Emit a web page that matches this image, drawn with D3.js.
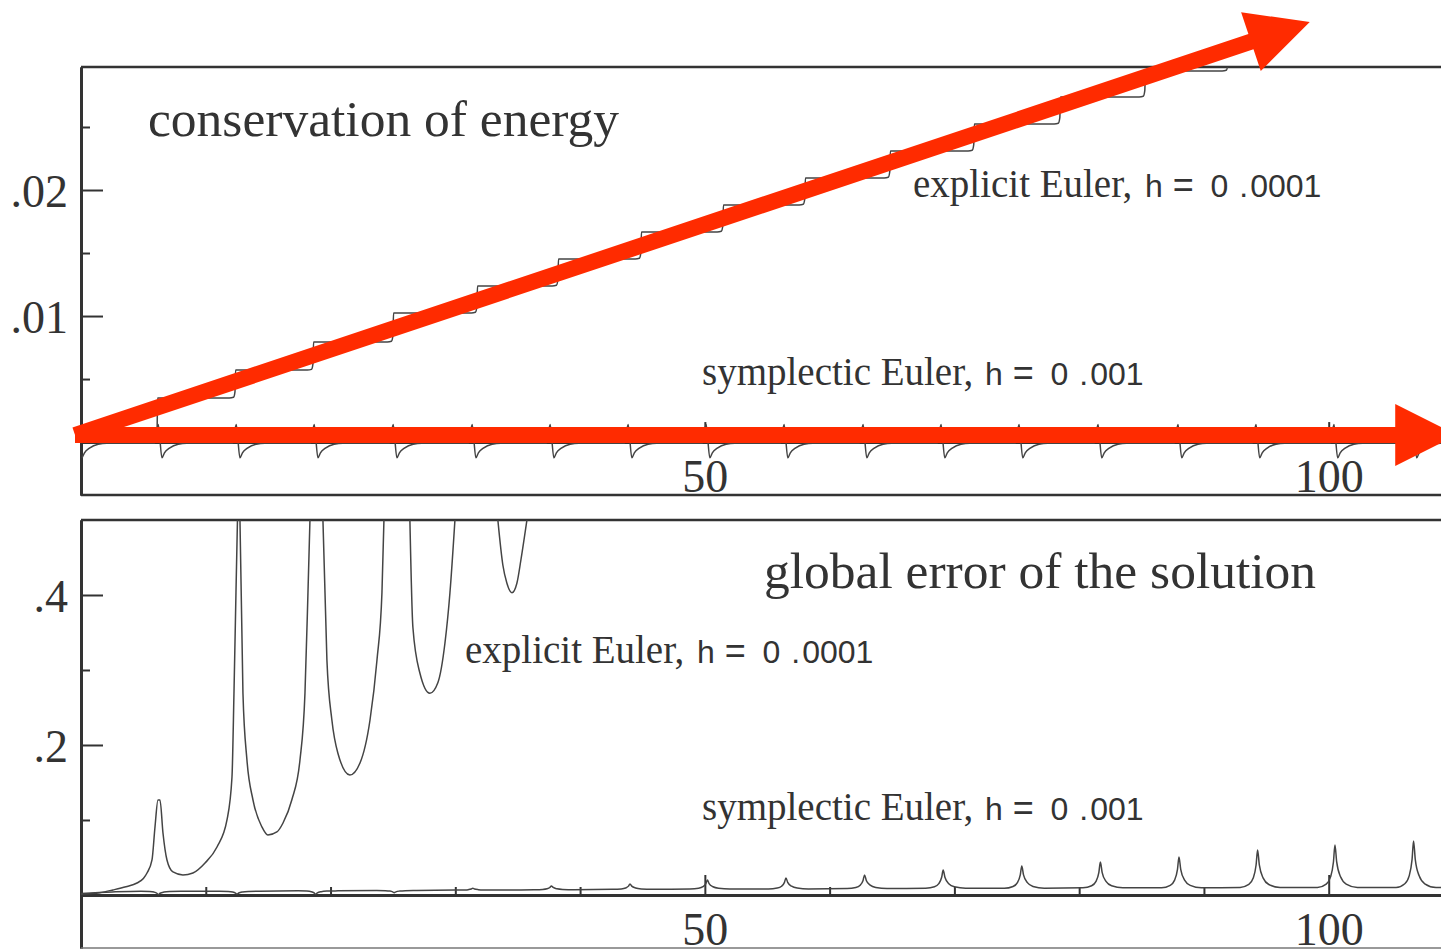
<!DOCTYPE html>
<html>
<head>
<meta charset="utf-8">
<script src="https://cdn.jsdelivr.net/npm/d3@7"></script>
<style>
html, body { margin: 0; padding: 0; background: #fff; }
svg { display: block; }
</style>
</head>
<body>
<svg id="chart" width="1441" height="949"></svg>
<script>
// ---------------- data ----------------
const timeDomain = [0, 109];
const energyDomain = [-0.0042, 0.02976];
const errorDomain = [-0.0707, 0.5];

const xMajorTicks = [50, 100];
const xMajorLabels = ["50", "100"];
const xMinorTicks = [10, 20, 30, 40, 60, 70, 80, 90];

const energyMajorTicks = [0.01, 0.02];
const energyMajorLabels = [".01", ".02"];
const energyMinorTicks = [0.005, 0.015, 0.025];

const errorMajorTicks = [0.2, 0.4];
const errorMajorLabels = [".2", ".4"];
const errorMinorTicks = [0.1, 0.3];

const panelTitles = ["conservation of energy", "global error of the solution"];
const methodNames = ["explicit Euler,", "symplectic Euler,"];
const stepSizes = ["0001", "001"];

// explicit Euler energy error: staircase (times of the jumps, level before each jump)
const explicitStepTimes = [6.09, 12.34, 18.59, 25.0, 31.73, 38.22, 44.87, 51.44, 58.01, 64.82, 71.55, 78.45, 85.26, 91.91, 98.6];
const explicitStepLevels = [0, 0.00349, 0.00571, 0.00794, 0.01024, 0.01238, 0.01452, 0.01667, 0.01881, 0.02095, 0.0231, 0.02524, 0.02738, 0.02944, 0.0316, 0.0337];
const stepCornerDt = [-0.45, -0.12, 0];
const stepCornerDv = [0, 0.00006, 0.0005];

// symplectic Euler energy error: cusps once per period
const energyCuspTimes = [0.08, 6.49, 12.74, 18.99, 25.32, 31.65, 37.9, 44.15, 50.4, 56.65, 62.98, 69.23, 75.48, 81.81, 88.22, 94.47, 100.72, 107.05];
const energyCuspDt = [-0.6, -0.3, 0, 0.2, 0.6, 1.3, 2.0];
const energyCuspValue = [-0.0001, 0.0014, -0.00125, -0.00085, -0.00048, -0.00017, -0.0001];

// explicit Euler global error (null = curve outside the frame)
const explicitErrTime = [
  0, 1.5, 2.56, 3.6, 4.49, 5.0, 5.29, 5.69, 5.93, 6.17, 6.33, 6.57, 6.89, 7.37, 8.17, 8.97, 9.94, 10.9, 11.7, 12.1, 12.26, 12.42, 12.54,
  12.64,
  12.74, 12.98, 13.3, 13.78, 14.5, 14.98, 15.7, 16.19, 16.9, 17.55, 17.95, 18.19, 18.35,
  18.9,
  19.39, 19.71, 20.11, 20.59, 21.55, 22.36, 23.16, 23.72, 24.12, 24.28,
  25.3,
  26.36, 26.6, 27.16, 27.96, 28.6, 29.17, 29.57, 29.97,
  31.7,
  33.41, 33.81, 34.13, 34.54, 34.94, 35.26, 35.74
];
const explicitErrValue = [
  0.001, 0.003, 0.0067, 0.011, 0.016, 0.022, 0.0293, 0.0467, 0.0907, 0.1267, 0.1267, 0.0827, 0.0467, 0.0307, 0.0267, 0.0293, 0.0427, 0.064, 0.1, 0.157, 0.269, 0.403, 0.5,
  null,
  0.5, 0.269, 0.18, 0.127, 0.0907, 0.08, 0.084, 0.096, 0.127, 0.18, 0.269, 0.403, 0.5,
  null,
  0.5, 0.313, 0.233, 0.189, 0.16, 0.176, 0.233, 0.313, 0.403, 0.5,
  null,
  0.5, 0.357, 0.296, 0.269, 0.283, 0.336, 0.403, 0.5,
  null,
  0.5, 0.44, 0.416, 0.403, 0.416, 0.447, 0.5
];

// symplectic Euler global error: small bumps once per period
const symErrStartTime = [0, 2.5];
const symErrStartValue = [0.002, 0.004];
const symPeakTimes = [6.2, 12.5, 18.8, 25.1, 31.4, 37.7, 44.0, 50.2, 56.5, 62.8, 69.1, 75.4, 81.7, 88.0, 94.3, 100.5, 106.8];
const symPeakValues = [0.0005, 0.001, 0.001, 0.003, 0.009, 0.012, 0.0147, 0.020, 0.0227, 0.0267, 0.0333, 0.0387, 0.044, 0.0507, 0.060, 0.0667, 0.072];
const symBaseValues = [0.005, 0.005, 0.0055, 0.006, 0.0065, 0.007, 0.0075, 0.008, 0.008, 0.0085, 0.009, 0.009, 0.0095, 0.0095, 0.01, 0.01, 0.01];
const symPeakDt = [-1.4, -0.7, -0.35, -0.12, 0, 0.14, 0.45, 0.9, 1.8];
const symPeakFrac = [0, 0.08, 0.25, 0.6, 1, 0.6, 0.25, 0.08, 0];
const symErrEnd = [109, 0.01];

// red annotation arrows (in energy-panel data coordinates)
const arrowStart = [-0.48, 0.00056];
const arrowTips = [[98.48, 0.03333], [110.3, 0.00056]];

// ---------------- drawing ----------------
const svg = d3.select("#chart");
const INK = "#333";
const SERIF = "'Liberation Serif', 'Times New Roman', serif";
const SANS = "'Liberation Sans', Arial, sans-serif";

const x = d3.scaleLinear().domain(timeDomain).range([81, 1441]);
const yTop = d3.scaleLinear().domain(energyDomain).range([495, 67]);
const yBot = d3.scaleLinear().domain(errorDomain).range([948, 520]);

const defs = svg.append("defs");
defs.append("clipPath").attr("id", "clipTop").append("rect")
  .attr("x", 81).attr("y", 67).attr("width", 1360).attr("height", 428);
defs.append("clipPath").attr("id", "clipBot").append("rect")
  .attr("x", 81).attr("y", 520).attr("width", 1360).attr("height", 428);

function styleAxis(g, w) {
  g.selectAll(".domain").attr("stroke", INK).attr("stroke-width", w);
  g.selectAll(".tick line").attr("stroke", INK).attr("stroke-width", 2);
  g.selectAll(".tick text").attr("fill", INK).attr("font-family", SERIF).attr("font-size", 46);
}

function panel(yScale, majors, labels, minors, xAxisY) {
  const g = svg.append("g");
  const xa = g.append("g").attr("transform", `translate(0,${xAxisY})`)
    .call(d3.axisBottom(x).tickValues(xMajorTicks).tickSize(-20).tickSizeOuter(0)
      .tickPadding(17).tickFormat((d, i) => xMajorLabels[i]));
  styleAxis(xa, 3);
  const xm = g.append("g").attr("transform", `translate(0,${xAxisY})`)
    .call(d3.axisBottom(x).tickValues(xMinorTicks).tickSize(-8).tickSizeOuter(0).tickFormat(""));
  styleAxis(xm, 3);
  const ya = g.append("g").attr("transform", "translate(81,0)")
    .call(d3.axisLeft(yScale).tickValues(majors).tickSize(-22).tickSizeOuter(0)
      .tickPadding(13).tickFormat((d, i) => labels[i]));
  styleAxis(ya, 3);
  ya.selectAll(".tick text").attr("dy", "0.36em");
  const ym = g.append("g").attr("transform", "translate(81,0)")
    .call(d3.axisLeft(yScale).tickValues(minors).tickSize(-9).tickSizeOuter(0).tickFormat(""));
  styleAxis(ym, 3);
  return g;
}

panel(yTop, energyMajorTicks, energyMajorLabels, energyMinorTicks, yTop(0));
panel(yBot, errorMajorTicks, errorMajorLabels, errorMinorTicks, yBot(0));

// frame lines
const [yT0, yT1] = yTop.range();
svg.append("line").attr("x1", 81).attr("x2", 1441).attr("y1", yT1).attr("y2", yT1).attr("stroke", INK).attr("stroke-width", 2.5);
svg.append("line").attr("x1", 81).attr("x2", 1441).attr("y1", yT0).attr("y2", yT0).attr("stroke", INK).attr("stroke-width", 2.5);
const [yB0, yB1] = yBot.range();
svg.append("line").attr("x1", 81).attr("x2", 1441).attr("y1", yB1).attr("y2", yB1).attr("stroke", INK).attr("stroke-width", 2.5);
svg.append("line").attr("x1", 81).attr("x2", 1441).attr("y1", yB0).attr("y2", yB0).attr("stroke", "#777").attr("stroke-width", 1.5);

// ---- series construction ----
const stairs = [[timeDomain[0], explicitStepLevels[0]]];
explicitStepTimes.forEach((t, k) => {
  const L = explicitStepLevels[k];
  stepCornerDt.forEach((dt, j) => stairs.push([t + dt, L + stepCornerDv[j]]));
  stairs.push([t + 0.05, explicitStepLevels[k + 1]]);
});
stairs.push([timeDomain[1], explicitStepLevels[explicitStepLevels.length - 1]]);

const symEnergy = [];
energyCuspTimes.forEach(m => {
  energyCuspDt.forEach((dt, j) => {
    const t = m + dt;
    if (t >= timeDomain[0] && t <= timeDomain[1] + 1) symEnergy.push([t, energyCuspValue[j]]);
  });
});

const expErr = explicitErrTime.map((t, i) => [t, explicitErrValue[i]]);

const symErr = symErrStartTime.map((t, i) => [t, symErrStartValue[i]]);
symPeakTimes.forEach((p, i) => {
  const b = symBaseValues[i], h = symPeakValues[i] - b;
  symPeakDt.forEach((dt, j) => symErr.push([p + dt, b + symPeakFrac[j] * h]));
});
symErr.push(symErrEnd);

function drawLine(data, yScale, clipId) {
  const line = d3.line()
    .defined(d => d[1] !== null)
    .x(d => x(d[0])).y(d => yScale(d[1]))
    .curve(d3.curveMonotoneX);
  svg.append("path").datum(data)
    .attr("clip-path", `url(#${clipId})`)
    .attr("fill", "none").attr("stroke", "#444").attr("stroke-width", 1.5)
    .attr("stroke-linejoin", "round")
    .attr("d", line);
}
drawLine(stairs, yTop, "clipTop");
drawLine(symEnergy, yTop, "clipTop");
drawLine(expErr, yBot, "clipBot");
drawLine(symErr, yBot, "clipBot");

// ---- texts ----
svg.append("text").attr("x", 148).attr("y", 136).attr("fill", INK)
  .attr("font-family", SERIF).attr("font-size", 51.5).text(panelTitles[0]);
svg.append("text").attr("x", 764).attr("y", 588).attr("fill", INK)
  .attr("font-family", SERIF).attr("font-size", 51.5).text(panelTitles[1]);

function methodLabel(x0, y0, name, hOffset, digits) {
  const t = svg.append("text").attr("x", x0).attr("y", y0).attr("fill", INK);
  t.append("tspan").attr("font-family", SERIF).attr("font-size", 39).text(name);
  const parts = [
    { s: " h", dx: 0, size: 32 },
    { s: " =", dx: 0, size: 36 },
    { s: " 0", dx: 8, size: 32 },
    { s: " .", dx: 2, size: 32 },
    { s: digits, dx: 2, size: 32 }
  ];
  parts.forEach((p, i) => {
    const ts = t.append("tspan").attr("font-family", SANS).attr("font-size", p.size).text(p.s);
    if (i === 0) ts.attr("x", x0 + hOffset - 9);
    if (p.dx) ts.attr("dx", p.dx);
  });
}
methodLabel(913, 197, methodNames[0], 232, stepSizes[0]);
methodLabel(702, 385, methodNames[1], 283, stepSizes[1]);
methodLabel(465, 663, methodNames[0], 232, stepSizes[0]);
methodLabel(702, 820, methodNames[1], 283, stepSizes[1]);

// ---- red arrows (annotation) ----
const RED = "#ff2b00";
function arrow(from, to, shaftW, headLen, headHalf) {
  const x0 = x(from[0]), y0 = yTop(from[1]);
  const x1 = x(to[0]), y1 = yTop(to[1]);
  const len = Math.hypot(x1 - x0, y1 - y0);
  const ux = (x1 - x0) / len, uy = (y1 - y0) / len;
  const nx = -uy, ny = ux;
  const bx = x1 - ux * headLen, by = y1 - uy * headLen;
  const s = shaftW / 2;
  const pts = [
    [x0 + nx * s, y0 + ny * s], [bx + nx * s, by + ny * s], [bx + nx * headHalf, by + ny * headHalf],
    [x1, y1],
    [bx - nx * headHalf, by - ny * headHalf], [bx - nx * s, by - ny * s], [x0 - nx * s, y0 - ny * s]
  ];
  svg.append("path").attr("d", "M" + pts.map(p => p.join(",")).join("L") + "Z").attr("fill", RED);
}
arrowTips.forEach(tip => arrow(arrowStart, tip, 16, 62, 31));
</script>
</body>
</html>
